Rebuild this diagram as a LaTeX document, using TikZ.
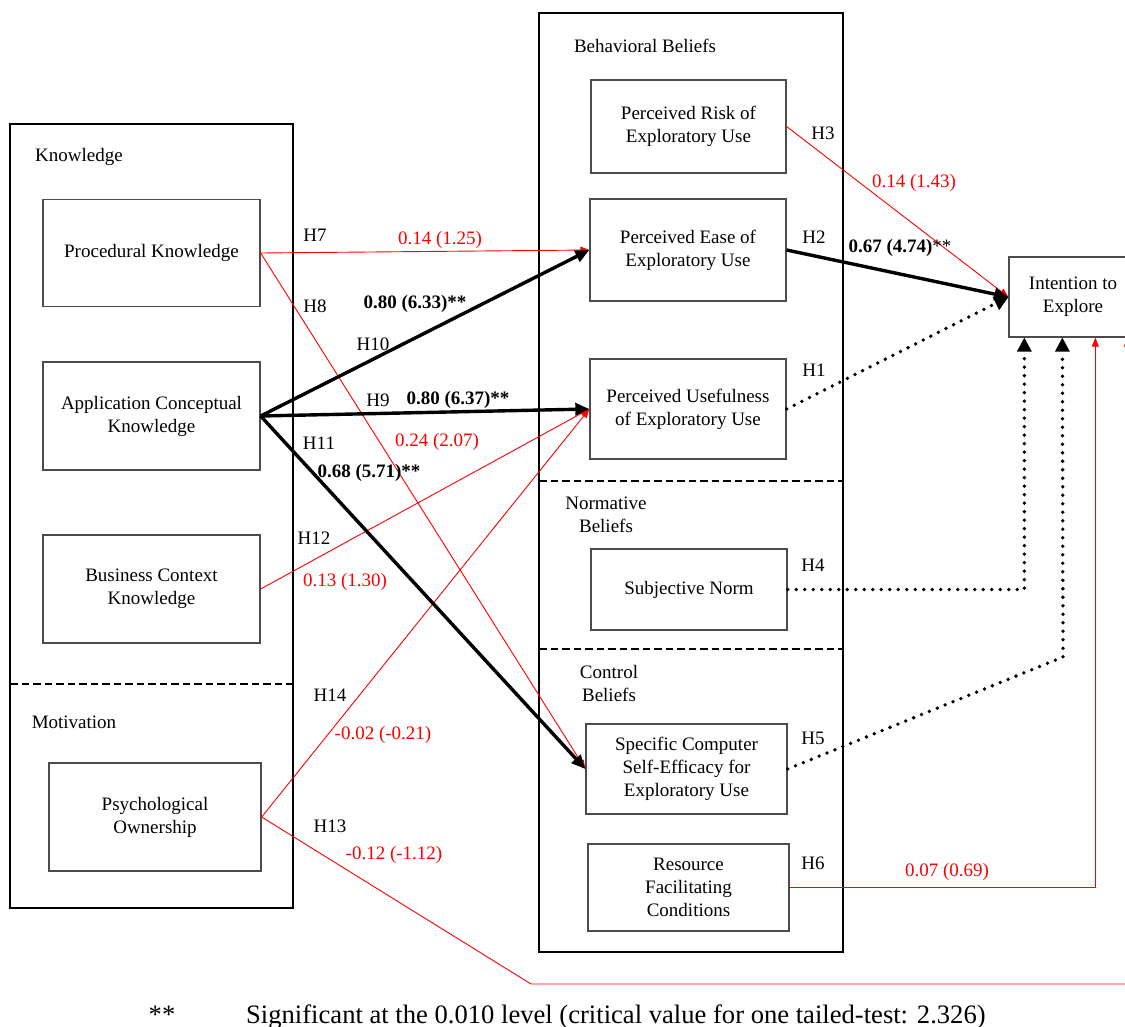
\documentclass[tikz,border=0pt]{standalone}
\usepackage{fontspec}
\setmainfont{Liberation Serif}
\usetikzlibrary{arrows.meta}
\begin{document}
\begin{tikzpicture}[x=1pt,y=-1pt,
  every node/.style={font=\fontsize{19}{23}\selectfont, inner sep=0pt},
  frame/.style={line width=2pt, draw=black},
  sep/.style={line width=2.6pt, dash pattern=on 7.5pt off 4pt},
  construct/.style={draw=black!70, line width=1.3pt, align=center, fill=white},
  strong/.style={line width=3.4pt, -{Triangle[length=14pt,width=12pt]}},
  weak/.style={draw=red, line width=0.9pt, -{Triangle[length=9pt,width=7pt]}, red},
  dotline/.style={line width=3.8pt, line cap=round, dash pattern=on 0pt off 8.5pt,
    -{Triangle[length=14pt,width=15pt,line width=0pt,round]}},
  hyp/.style={},
  val/.style={text=red},
  sig/.style={font=\fontsize{19}{23}\selectfont\bfseries}]
\useasboundingbox (0,0) rectangle (1125,1027);

% grouping frames
\draw[frame] (10,124) rectangle (293,908);
\draw[sep] (10,684) -- (293,684);
\draw[frame] (539,13) rectangle (843,952);
\draw[sep] (539,481) -- (843,481);
\draw[sep] (539,649) -- (843,649);

% group titles
\node (tknow) at (79,157) {Knowledge};
\node (tmot) at (74,722) {Motivation};
\node (tbeh) at (645,46) {Behavioral Beliefs};
\node[align=center] (tnorm) at (606,515) {Normative\\Beliefs};
\node[align=center] (tctrl) at (609,683) {Control\\Beliefs};

% constructs
\node[construct, minimum width=217, minimum height=107] (proc) at (151.5,253) {Procedural Knowledge};
\node[construct, minimum width=217, minimum height=108] (appl) at (151.5,416) {Application Conceptual\\Knowledge};
\node[construct, minimum width=217, minimum height=108] (bus) at (151.5,589) {Business Context\\Knowledge};
\node[construct, minimum width=212, minimum height=108] (psy) at (155,817) {Psychological\\Ownership};
\node[construct, minimum width=195, minimum height=93] (risk) at (688.5,126.5) {Perceived Risk of\\Exploratory Use};
\node[construct, minimum width=196, minimum height=102] (ease) at (688,250) {Perceived Ease of\\Exploratory Use};
\node[construct, minimum width=196, minimum height=100] (use) at (688,409) {Perceived Usefulness\\of Exploratory Use};
\node[construct, minimum width=196, minimum height=81] (subj) at (689,589.5) {Subjective Norm};
\node[construct, minimum width=201, minimum height=90] (spec) at (686.5,769) {Specific Computer\\Self-Efficacy for\\Exploratory Use};
\node[construct, minimum width=201, minimum height=87] (res) at (688.5,887.5) {Resource\\Facilitating\\Conditions};
\node[construct, minimum width=128, minimum height=80] (intent) at (1073,297) {Intention to\\Explore};

% bend points
\coordinate (b5) at (1063,657);
\coordinate (b13) at (531,984);

% paths from knowledge and motivation
\draw[weak] (proc.east) -- (ease.west);
\draw[weak] (proc.east) -- (spec.west);
\draw[weak] (bus.east) -- (use.west);
\draw[weak] (psy.east) -- (use.west);
\draw[strong] (appl.east) -- (ease.west);
\draw[strong] (appl.east) -- (use.west);
\draw[strong] (appl.east) -- (spec.west);

% paths into intention
\draw[weak] (risk.east) -- (intent.west);
\draw[strong] (ease.east) -- (intent.west);
\draw[dotline] (use.east) -- (intent.west);
\draw[dotline] (subj.east) -| ([xshift=16pt]intent.south west);
\draw[dotline] (spec.east) -- (b5) -- ([xshift=54pt]intent.south west);
\draw[weak] (res.east) -| ([xshift=87pt]intent.south west);
\draw[weak] (psy.east) -- (b13) -| ([xshift=119pt]intent.south west);

% hypothesis labels
\node[hyp] (h1) at (814,370) {H1};
\node[hyp] (h2) at (814,237) {H2};
\node[hyp] (h3) at (823,133) {H3};
\node[hyp] (h4) at (813,565) {H4};
\node[hyp] (h5) at (813,738) {H5};
\node[hyp] (h6) at (813,863) {H6};
\node[hyp] (h7) at (315,235) {H7};
\node[hyp] (h8) at (315,306) {H8};
\node[hyp] (h9) at (378,400) {H9};
\node[hyp] (h10) at (373,344) {H10};
\node[hyp] (h11) at (319,443) {H11};
\node[hyp] (h12) at (314,538) {H12};
\node[hyp] (h13) at (330,826) {H13};
\node[hyp] (h14) at (330,695) {H14};

% estimates (t-values)
\node[val] (v3) at (914,183) {0.14 (1.43)};
\node[sig] (v2) at (900,248) {0.67 (4.74)\textmd{**}};
\node[val] (v6) at (947,872) {0.07 (0.69)};
\node[val] (v7) at (440,240) {0.14 (1.25)};
\node[sig] (v10) at (415,304) {0.80 (6.33)**};
\node[sig] (v9) at (458,400) {0.80 (6.37)**};
\node[val] (v8) at (437,442) {0.24 (2.07)};
\node[sig] (v11) at (369,473) {0.68 (5.71)**};
\node[val] (v12) at (345,582) {0.13 (1.30)};
\node[val] (v14) at (383,735) {-0.02 (-0.21)};
\node[val] (v13) at (394,855) {-0.12 (-1.12)};

% footnote
\node[font=\fontsize{26.6}{30}\selectfont, anchor=base] (fstar) at (162,1023) {**};
\node[font=\fontsize{26.6}{30}\selectfont, anchor=base west] (fnote) at (246,1023) {Significant at the 0.010 level (critical value for one tailed-test: 2.326)};
\end{tikzpicture}
\end{document}
